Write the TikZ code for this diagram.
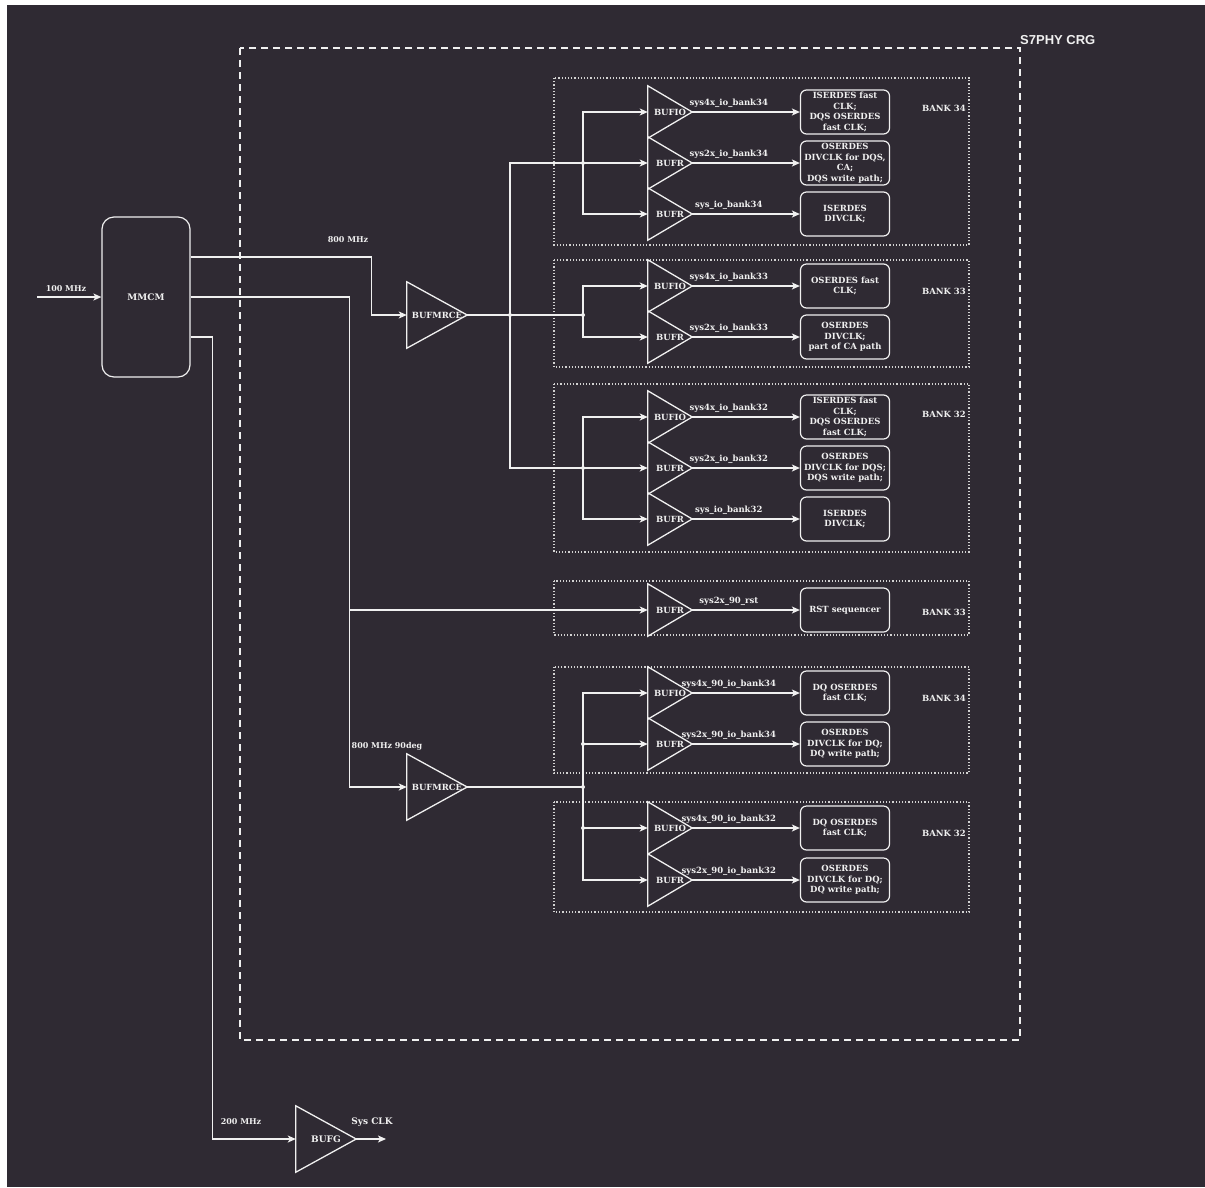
\documentclass[tikz,border=0pt]{standalone}
\usepackage{fontspec}
\setmainfont{DejaVu Serif}
\newfontfamily\crgfont{Liberation Sans}
\usetikzlibrary{arrows.meta}
\definecolor{bgc}{HTML}{2F2A33}
\definecolor{fg}{HTML}{F0F0F0}
\definecolor{dotc}{HTML}{D2D2D2}

\begin{document}
\begin{tikzpicture}[x=1pt,y=-1pt,
  font=\bfseries\fontsize{8.5}{10.5}\selectfont,
  every node/.append style={text=fg},
  wire/.style={draw=fg,line width=1.3pt},
  arr/.style={wire,-{Stealth[length=8pt,width=7pt,inset=2pt]}},
  tri/.style={draw=fg,line width=1.3pt,line join=miter},
  buf/.style={minimum width=44pt,minimum height=52pt,inner sep=0pt},
  mrce/.style={minimum width=60pt,minimum height=66pt,inner sep=0pt},
  load/.style={draw=fg,line width=1.2pt,rounded corners=6pt,minimum width=89pt,
    minimum height=44pt,inner sep=0pt,align=center},
  bank/.style={draw=dotc,line width=1.2pt,dash pattern=on 1.2pt off 2pt},
  banklbl/.style={anchor=east,inner sep=0pt},
  freq/.style={font=\bfseries\fontsize{8}{10}\selectfont},
  elbl/.style={pos=0.34,above=0.5pt}]
  \useasboundingbox (0,0) rectangle (1205,1187);
  \fill[bgc] (7,5) rectangle (1205,1187);

  % S7PHY CRG frame
  \draw[fg,line width=1.8pt,dash pattern=on 7pt off 5pt] (240,48) rectangle (1020,1040);
  \node[anchor=base west,inner sep=0pt,font=\crgfont\bfseries\fontsize{13}{15}\selectfont]
    at (1020,44) {S7PHY CRG};

  % bank frames
  \draw[bank] (554,78) rectangle (969,245);
  \draw[bank] (554,260) rectangle (969,367);
  \draw[bank] (554,384) rectangle (969,552);
  \draw[bank] (554,581) rectangle (969,635);
  \draw[bank] (554,667) rectangle (969,773);
  \draw[bank] (554,802) rectangle (969,912);
  \node[banklbl] at (966,108) {BANK 34};
  \node[banklbl] at (966,291) {BANK 33};
  \node[banklbl] at (966,414) {BANK 32};
  \node[banklbl] at (966,612) {BANK 33};
  \node[banklbl] at (966,698) {BANK 34};
  \node[banklbl] at (966,833) {BANK 32};

  % clock source
  \node[draw=fg,line width=1.2pt,rounded corners=12pt,minimum width=88pt,minimum height=160pt,
    font=\bfseries\fontsize{9}{11}\selectfont] (mmcm) at (146,297) {MMCM};
  \coordinate (in) at (37,297);
  \draw[arr] (in) -- (mmcm.west) node[freq,pos=0.45,above=1.5pt] {100 MHz};

  % global buffers
  \node[mrce] (bm) at (437,315) {BUFMRCE};
  \node[mrce] (bm90) at (437,787) {BUFMRCE};
  \node[mrce,font=\bfseries\fontsize{9}{11}\selectfont] (bufg) at (326,1139) {BUFG};

  % bank 34
  \node[buf] (bf34a) at (670,112) {BUFIO};
  \node[buf] (bf34b) at (670,163) {BUFR};
  \node[buf] (bf34c) at (670,214) {BUFR};
  \node[load] (ld34a) at (845,112) {ISERDES fast\\CLK;\\DQS OSERDES\\fast CLK;};
  \node[load] (ld34b) at (845,163) {OSERDES\\DIVCLK for DQS,\\CA;\\DQS write path;};
  \node[load] (ld34c) at (845,214) {ISERDES\\DIVCLK;};

  % bank 33
  \node[buf] (bf33a) at (670,286) {BUFIO};
  \node[buf] (bf33b) at (670,337) {BUFR};
  \node[load] (ld33a) at (845,286) {OSERDES fast\\CLK;};
  \node[load] (ld33b) at (845,337) {OSERDES\\DIVCLK;\\part of CA path};

  % bank 32
  \node[buf] (bf32a) at (670,417) {BUFIO};
  \node[buf] (bf32b) at (670,468) {BUFR};
  \node[buf] (bf32c) at (670,519) {BUFR};
  \node[load] (ld32a) at (845,417) {ISERDES fast\\CLK;\\DQS OSERDES\\fast CLK;};
  \node[load] (ld32b) at (845,468) {OSERDES\\DIVCLK for DQS;\\DQS write path;};
  \node[load] (ld32c) at (845,519) {ISERDES\\DIVCLK;};

  % reset
  \node[buf] (bfrst) at (670,610) {BUFR};
  \node[load] (ldrst) at (845,610) {RST sequencer};

  % 90deg banks
  \node[buf] (bf94a) at (670,693) {BUFIO};
  \node[buf] (bf94b) at (670,744) {BUFR};
  \node[load] (ld94a) at (845,693) {DQ OSERDES\\fast CLK;};
  \node[load] (ld94b) at (845,744) {OSERDES\\DIVCLK for DQ;\\DQ write path;};
  \node[buf] (bf92a) at (670,828) {BUFIO};
  \node[buf] (bf92b) at (670,880) {BUFR};
  \node[load] (ld92a) at (845,828) {DQ OSERDES\\fast CLK;};
  \node[load] (ld92b) at (845,880) {OSERDES\\DIVCLK for DQ;\\DQ write path;};

  \foreach \t in {bm,bm90,bufg,bf34a,bf34b,bf34c,bf33a,bf33b,bf32a,bf32b,bf32c,
                  bfrst,bf94a,bf94b,bf92a,bf92b}
    \draw[tri] (\t.north west) -- (\t.east) -- (\t.south west) -- cycle;

  % MMCM outputs
  \draw[arr] ([yshift=40pt]mmcm.east) -| ([xshift=-35pt]bm.west) -- (bm.west);
  \node[freq] at (348,240) {800 MHz};
  \draw[arr] (mmcm.east) -| ([xshift=-57pt]bm90.west) -- (bm90.west);
  \node[freq] at (387,746) {800 MHz 90deg};
  \coordinate (j90) at (350,610);
  \draw[arr] (j90) -- (bfrst.west);
  \draw[arr] ([yshift=-40pt]mmcm.east) -| ([xshift=-83pt]bufg.west) -- (bufg.west);
  \node[freq] at (241,1122) {200 MHz};
  \coordinate (sysclk) at (386,1139);
  \draw[arr] (bufg.east) -- (sysclk);
  \node[font=\bfseries\fontsize{9}{11}\selectfont] at (372,1122) {Sys CLK};

  % distribution
  \coordinate (ja) at (510,315);
  \coordinate (k34) at (583,163);
  \coordinate (k33) at (583,315);
  \coordinate (k32) at (583,468);
  \coordinate (k90) at (583,787);
  \draw[wire] (bm.east) -- (k33);
  \draw[wire] (ja) |- (k34);
  \draw[wire] (ja) |- (k32);
  \draw[arr] (k34) |- (bf34a.west);
  \draw[arr] (k34) -- (bf34b.west);
  \draw[arr] (k34) |- (bf34c.west);
  \draw[arr] (k33) |- (bf33a.west);
  \draw[arr] (k33) |- (bf33b.west);
  \draw[arr] (k32) |- (bf32a.west);
  \draw[arr] (k32) -- (bf32b.west);
  \draw[arr] (k32) |- (bf32c.west);
  \draw[wire] (bm90.east) -- (k90);
  \draw[arr] (k90) |- (bf94a.west);
  \draw[arr] (k90) |- (bf94b.west);
  \draw[arr] (k90) |- (bf92a.west);
  \draw[arr] (k90) |- (bf92b.west);
  \foreach \j in {ja,k34,k33,k32,k90}
    \fill[fg] (\j) circle (2pt);
  \fill[fg] (k90 |- bf94b.west) circle (2pt);
  \fill[fg] (k90 |- bf92a.west) circle (2pt);

  % buffer outputs
  \draw[arr] (bf34a.east) -- (ld34a.west) node[elbl] {sys4x\_io\_bank34};
  \draw[arr] (bf34b.east) -- (ld34b.west) node[elbl] {sys2x\_io\_bank34};
  \draw[arr] (bf34c.east) -- (ld34c.west) node[elbl] {sys\_io\_bank34};
  \draw[arr] (bf33a.east) -- (ld33a.west) node[elbl] {sys4x\_io\_bank33};
  \draw[arr] (bf33b.east) -- (ld33b.west) node[elbl] {sys2x\_io\_bank33};
  \draw[arr] (bf32a.east) -- (ld32a.west) node[elbl] {sys4x\_io\_bank32};
  \draw[arr] (bf32b.east) -- (ld32b.west) node[elbl] {sys2x\_io\_bank32};
  \draw[arr] (bf32c.east) -- (ld32c.west) node[elbl] {sys\_io\_bank32};
  \draw[arr] (bfrst.east) -- (ldrst.west) node[elbl] {sys2x\_90\_rst};
  \draw[arr] (bf94a.east) -- (ld94a.west) node[elbl] {sys4x\_90\_io\_bank34};
  \draw[arr] (bf94b.east) -- (ld94b.west) node[elbl] {sys2x\_90\_io\_bank34};
  \draw[arr] (bf92a.east) -- (ld92a.west) node[elbl] {sys4x\_90\_io\_bank32};
  \draw[arr] (bf92b.east) -- (ld92b.west) node[elbl] {sys2x\_90\_io\_bank32};
\end{tikzpicture}
\end{document}
